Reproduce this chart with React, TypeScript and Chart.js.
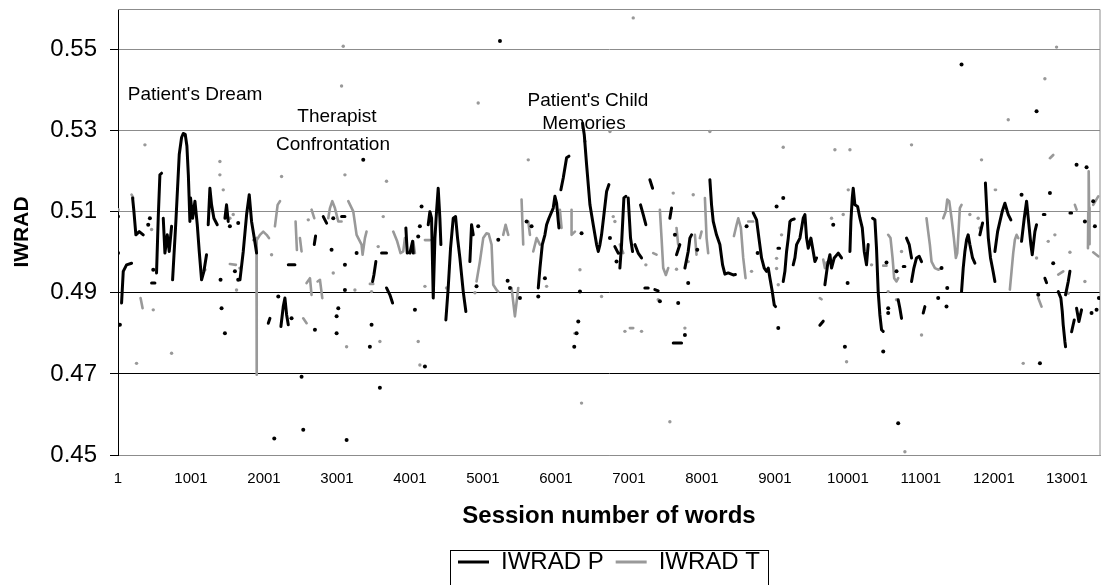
import React, { useEffect, useRef } from 'react';
import { Chart, registerables } from 'chart.js';

Chart.register(...registerables);

const FONT = "'Liberation Sans', Arial, Helvetica, sans-serif";

// Session word index tick labels
const xTicks = [1, 1001, 2001, 3001, 4001, 5001, 6001, 7001, 8001, 9001, 10001, 11001, 12001, 13001];
const yTicks = [0.45, 0.47, 0.49, 0.51, 0.53, 0.55];
const xMin = 1;
const xMax = 13455;
const yMin = 0.45;
const yMax = 0.56;

// IWRAD P (patient) — continuous runs of [word, value]
const iwradPRuns: number[][][] = [
  [[50, 0.4875], [73, 0.4953], [118, 0.4969], [187, 0.4973]],
  [[201, 0.5134], [219, 0.5101], [246, 0.5043], [292, 0.5051], [347, 0.5043]],
  [[461, 0.4924], [507, 0.4924]],
  [[529, 0.4949], [552, 0.5084], [575, 0.5191], [598, 0.5195]],
  [[621, 0.5084], [644, 0.4998], [676, 0.5043], [703, 0.5002], [735, 0.5064]],
  [[749, 0.4932], [794, 0.5076], [840, 0.5241], [872, 0.5283], [895, 0.5293], [922, 0.5291], [945, 0.5262], [965, 0.519], [986, 0.5076], [995, 0.5134], [1023, 0.5084], [1055, 0.5126], [1087, 0.5068], [1114, 0.5002], [1146, 0.4932], [1178, 0.4953], [1214, 0.4994]],
  [[1237, 0.5068], [1260, 0.5158], [1283, 0.5117], [1315, 0.5084], [1361, 0.5068]],
  [[1466, 0.5084], [1488, 0.5117], [1511, 0.5076]],
  [[1672, 0.4932], [1717, 0.5002], [1763, 0.5093], [1799, 0.5142], [1831, 0.5076], [1868, 0.5035], [1900, 0.4998]],
  [[2060, 0.4825], [2083, 0.4837]],
  [[2233, 0.4817], [2265, 0.4866], [2288, 0.4887], [2311, 0.4846], [2334, 0.4821]],
  [[2334, 0.4969], [2425, 0.4969]],
  [[2690, 0.5019], [2708, 0.504]],
  [[2813, 0.5088], [2859, 0.5072]],
  [[3064, 0.5088], [3110, 0.5088]],
  [[3489, 0.4928], [3507, 0.4944], [3534, 0.4977]],
  [[3612, 0.4998], [3680, 0.4998]],
  [[3680, 0.4912], [3726, 0.4895], [3763, 0.4875]],
  [[3945, 0.506], [3964, 0.4998]],
  [[4000, 0.4998], [4037, 0.5027], [4046, 0.4998]],
  [[4251, 0.5068], [4274, 0.51], [4297, 0.5084], [4320, 0.4887], [4343, 0.5035], [4365, 0.51], [4388, 0.5158], [4411, 0.5084], [4425, 0.5019]],
  [[4493, 0.4833], [4525, 0.4912], [4557, 0.501], [4594, 0.5084], [4626, 0.5088], [4653, 0.5035], [4685, 0.4986], [4731, 0.4903], [4767, 0.4854]],
  [[4822, 0.4977], [4845, 0.5068], [4868, 0.5043]],
  [[5759, 0.4912], [5782, 0.4961], [5814, 0.5019], [5850, 0.5043], [5873, 0.5068], [5905, 0.5084], [5964, 0.5109], [5987, 0.5138], [6010, 0.5121], [6042, 0.506]],
  [[6069, 0.5154], [6101, 0.5183], [6147, 0.5233], [6179, 0.5237]],
  [[6366, 0.5318], [6389, 0.529], [6421, 0.5216], [6467, 0.5117], [6512, 0.5068], [6558, 0.5019], [6581, 0.5002], [6604, 0.5019], [6626, 0.5043], [6663, 0.51], [6695, 0.515], [6727, 0.5167]],
  [[6808, 0.5014], [6854, 0.4998]],
  [[6877, 0.4961], [6900, 0.5019], [6932, 0.5134], [6959, 0.5138]],
  [[6991, 0.5134], [7023, 0.5035], [7051, 0.5002]],
  [[7083, 0.5019], [7128, 0.4998], [7174, 0.4986]],
  [[7160, 0.5117], [7197, 0.5093], [7233, 0.5068]],
  [[7219, 0.4912], [7265, 0.4912]],
  [[7288, 0.5179], [7325, 0.5158]],
  [[7356, 0.4908], [7402, 0.4905]],
  [[7562, 0.5084], [7585, 0.5109]],
  [[7608, 0.4776], [7722, 0.4776]],
  [[7653, 0.4994], [7699, 0.5019]],
  [[7768, 0.4961], [7813, 0.5002], [7836, 0.5035], [7859, 0.5043]],
  [[8110, 0.5179], [8133, 0.5117], [8156, 0.5076], [8201, 0.5043], [8247, 0.5019], [8284, 0.4969], [8316, 0.4946], [8361, 0.4949], [8430, 0.4944], [8460, 0.4945]],
  [[8704, 0.5097], [8750, 0.508], [8782, 0.5035], [8818, 0.4986], [8855, 0.4961], [8887, 0.4953], [8910, 0.4961], [8933, 0.4936], [8965, 0.4903], [8992, 0.487], [9010, 0.4866]],
  [[9042, 0.501], [9065, 0.501]],
  [[9115, 0.4928], [9138, 0.4953], [9161, 0.5002], [9184, 0.5035], [9207, 0.5076], [9229, 0.508], [9266, 0.5082]],
  [[9252, 0.4969], [9275, 0.4986], [9298, 0.5019], [9344, 0.5035], [9389, 0.5084], [9412, 0.5093], [9435, 0.5035], [9458, 0.501], [9494, 0.5035], [9526, 0.5002], [9549, 0.4977], [9572, 0.4986]],
  [[9617, 0.482], [9663, 0.483]],
  [[9686, 0.492], [9723, 0.4969], [9755, 0.4994], [9777, 0.4961], [9814, 0.4986], [9869, 0.4998], [9914, 0.4986]],
  [[10029, 0.5002], [10042, 0.5076], [10061, 0.5134], [10074, 0.5158], [10097, 0.5117], [10134, 0.5113], [10166, 0.5084], [10198, 0.506], [10225, 0.5002], [10256, 0.4969], [10279, 0.5019]],
  [[10339, 0.5084], [10371, 0.508], [10393, 0.501], [10416, 0.4903], [10439, 0.4846], [10462, 0.4809], [10485, 0.4805]],
  [[10690, 0.4883], [10713, 0.4862], [10736, 0.4837]],
  [[10759, 0.4965], [10782, 0.4965]],
  [[10804, 0.5035], [10841, 0.5019], [10873, 0.4986]],
  [[10873, 0.4928], [10905, 0.4961], [10941, 0.4986], [10978, 0.499], [11010, 0.4977]],
  [[11033, 0.485], [11056, 0.4866]],
  [[11558, 0.4903], [11581, 0.4961], [11604, 0.5002], [11627, 0.5031], [11649, 0.5043], [11672, 0.5019], [11709, 0.4986], [11741, 0.4973]],
  [[11809, 0.5043], [11846, 0.5072]],
  [[11885, 0.5171], [11905, 0.5101], [11925, 0.5035], [11955, 0.4986], [11990, 0.4953], [12015, 0.4928]],
  [[12015, 0.5002], [12052, 0.5051], [12084, 0.5076], [12116, 0.5101], [12152, 0.5121], [12198, 0.5093], [12234, 0.508]],
  [[12380, 0.5027], [12417, 0.5084], [12449, 0.5126], [12472, 0.5084], [12508, 0.5019], [12527, 0.4994], [12563, 0.5051], [12586, 0.5068]],
  [[12678, 0.5093], [12701, 0.5093]],
  [[12700, 0.4936], [12723, 0.4925]],
  [[12883, 0.4903], [12919, 0.4887], [12938, 0.4854], [12951, 0.4821], [12974, 0.478], [12983, 0.4767]],
  [[12983, 0.4895], [13020, 0.4928], [13043, 0.4953]],
  [[13043, 0.5097], [13066, 0.5097]],
  [[13066, 0.4804], [13102, 0.4833]],
  [[13134, 0.4862], [13166, 0.4829], [13202, 0.4858]],
];

// IWRAD P isolated values
const iwradPDots: number[][] = [
  [1, 0.5088], [1, 0.4998], [27, 0.4821], [415, 0.5068], [438, 0.5084], [484, 0.4957], [1406, 0.4932], [1420, 0.4862], [1466, 0.48], [1534, 0.5064], [1603, 0.4953], [1648, 0.5072], [1648, 0.4932],
  [2197, 0.4891], [2379, 0.4837], [2699, 0.4809], [2927, 0.5006], [2950, 0.5084], [2996, 0.4842], [2996, 0.48], [3019, 0.4862], [3110, 0.4907], [3110, 0.4969], [3270, 0.4998], [3361, 0.5228], [2516, 0.4693], [2142, 0.4541], [2539, 0.4562], [3133, 0.4537],
  [3452, 0.4767], [3475, 0.4821], [3589, 0.4666], [4069, 0.4858], [4114, 0.5039], [4137, 0.5064], [4160, 0.5113], [4206, 0.4718], [4913, 0.4916], [4936, 0.5064],
  [5211, 0.5031], [5234, 0.5521], [5339, 0.493], [5371, 0.4912], [5508, 0.4887], [5599, 0.5076], [5667, 0.5064], [5759, 0.4891], [5850, 0.4936], [6252, 0.4767], [6284, 0.48], [6307, 0.4829], [6330, 0.4903], [6352, 0.5047], [6741, 0.5035],
  [6831, 0.4977], [7425, 0.4879], [7631, 0.5043], [7676, 0.4875], [7768, 0.4796], [7813, 0.4924], [7937, 0.5006],
  [8613, 0.5064], [8764, 0.4998], [9024, 0.5113], [9047, 0.4813], [9115, 0.5134], [9800, 0.5068], [9960, 0.4767], [9997, 0.4924],
  [10485, 0.4755], [10530, 0.4975], [10553, 0.4862], [10553, 0.485], [10667, 0.4953], [10690, 0.4578], [11238, 0.4887], [11284, 0.4961], [11352, 0.4866], [11362, 0.4912], [11558, 0.5463],
  [12380, 0.5142], [12586, 0.5348], [12609, 0.4895], [12632, 0.4726], [12769, 0.5146], [12814, 0.4973], [13134, 0.5216], [13248, 0.5076], [13271, 0.521], [13339, 0.485], [13362, 0.5126], [13385, 0.5064], [13408, 0.4858], [13440, 0.4887],
];

// IWRAD T (therapist) — continuous runs of [word, value]
const iwradTRuns: number[][][] = [
  [[187, 0.5142], [210, 0.5134]],
  [[310, 0.4887], [338, 0.4862]],
  [[1534, 0.4971], [1616, 0.4969]],
  [[1855, 0.503], [1898, 0.5035], [1900, 0.4698], [1903, 0.503], [1946, 0.5043], [1991, 0.5051], [2037, 0.5043], [2069, 0.5035]],
  [[2151, 0.5064], [2188, 0.5117], [2220, 0.5126]],
  [[2434, 0.5076], [2452, 0.5006]],
  [[2494, 0.5035], [2516, 0.5002]],
  [[2539, 0.4837], [2585, 0.4825]],
  [[2585, 0.4924], [2631, 0.4936], [2653, 0.4895]],
  [[2653, 0.5105], [2690, 0.5084]],
  [[2736, 0.4928], [2768, 0.4932], [2800, 0.4887]],
  [[2882, 0.5084], [2905, 0.5109], [2937, 0.5126], [2973, 0.5109], [3019, 0.5076], [3064, 0.5076]],
  [[3156, 0.5126], [3224, 0.5101], [3270, 0.5043], [3338, 0.5019], [3352, 0.4994], [3384, 0.5035], [3406, 0.5051]],
  [[3452, 0.4922], [3498, 0.4922]],
  [[3772, 0.5051], [3826, 0.5027], [3872, 0.4998], [3909, 0.5002], [3932, 0.5035]],
  [[4046, 0.5027], [4069, 0.4998]],
  [[4206, 0.503], [4274, 0.503]],
  [[4913, 0.4928], [4959, 0.4977], [5005, 0.5035], [5050, 0.5047], [5080, 0.5045], [5119, 0.5019], [5142, 0.492], [5188, 0.4907], [5211, 0.4903]],
  [[5279, 0.5043], [5311, 0.5068], [5348, 0.5043]],
  [[5393, 0.4912], [5439, 0.4842], [5485, 0.4912]],
  [[5530, 0.513], [5553, 0.5019]],
  [[5622, 0.5076], [5645, 0.5043]],
  [[5690, 0.5002], [5736, 0.5035], [5782, 0.5019]],
  [[6055, 0.5105], [6078, 0.506]],
  [[6215, 0.5105], [6215, 0.5043], [6261, 0.5051]],
  [[6877, 0.5019], [6923, 0.4998]],
  [[7014, 0.4813], [7060, 0.4813]],
  [[7334, 0.4998], [7379, 0.4994]],
  [[7425, 0.5105], [7448, 0.5035], [7471, 0.4961], [7507, 0.4944], [7539, 0.4961]],
  [[7653, 0.506], [7676, 0.5019]],
  [[7905, 0.5043], [7927, 0.4994]],
  [[7973, 0.5035], [7996, 0.5051]],
  [[8042, 0.5134], [8065, 0.5035], [8087, 0.4998]],
  [[8440, 0.504], [8476, 0.5068], [8499, 0.5084], [8535, 0.506], [8567, 0.4986], [8599, 0.4936]],
  [[8636, 0.5076], [8704, 0.5076]],
  [[9617, 0.4887], [9640, 0.4884]],
  [[9663, 0.4982], [9686, 0.4961], [9709, 0.4975]],
  [[10485, 0.4967], [10530, 0.4967]],
  [[10553, 0.5043], [10585, 0.5035], [10613, 0.4986], [10635, 0.4936], [10667, 0.4928], [10690, 0.4936]],
  [[11078, 0.5084], [11101, 0.5051], [11124, 0.5019], [11147, 0.4977], [11193, 0.4961], [11238, 0.4957], [11284, 0.4961]],
  [[11307, 0.5084], [11343, 0.5101], [11362, 0.513], [11389, 0.5126], [11421, 0.5084], [11453, 0.5035], [11480, 0.4986], [11499, 0.4998], [11517, 0.5051], [11535, 0.5109], [11558, 0.5117]],
  [[12015, 0.5154], [12030, 0.5154]],
  [[12220, 0.4908], [12243, 0.4953], [12266, 0.4998], [12289, 0.5031], [12312, 0.5043], [12335, 0.5035]],
  [[12609, 0.4887], [12654, 0.4866]],
  [[12769, 0.5232], [12814, 0.524]],
  [[12883, 0.4945], [12951, 0.4953]],
  [[13111, 0.5117], [13134, 0.5105]],
  [[13290, 0.501], [13294, 0.51], [13300, 0.52], [13306, 0.511], [13312, 0.502]],
  [[13362, 0.5], [13431, 0.499]],
  [[13362, 0.5117], [13431, 0.5138]],
];

// IWRAD T isolated values
const iwradTDots: number[][] = [
  [4, 0.5105], [255, 0.4726], [370, 0.5265], [461, 0.5056], [484, 0.4858], [735, 0.4751], [1192, 0.4957], [1397, 0.5224], [1397, 0.5191], [1443, 0.5154], [1534, 0.5084], [1580, 0.5093], [1625, 0.4907], [1671, 0.4961],
  [2105, 0.4994], [2242, 0.5187], [2608, 0.508], [2950, 0.4949], [3064, 0.541], [3087, 0.5508], [3110, 0.5191], [3133, 0.4767], [3247, 0.4907],
  [3475, 0.4903], [3566, 0.5014], [3589, 0.478], [3635, 0.5088], [3680, 0.5175], [4114, 0.478], [4137, 0.4722], [4206, 0.4916], [4502, 0.4912], [4891, 0.49], [4936, 0.5368],
  [5622, 0.5228], [5873, 0.4916], [6261, 0.48], [6330, 0.4957], [6352, 0.4628], [6398, 0.5274], [6626, 0.4891], [6741, 0.5298], [6786, 0.5088],
  [6809, 0.5076], [6946, 0.4805], [7060, 0.5578], [7174, 0.4805], [7233, 0.4969], [7402, 0.4883], [7562, 0.4582], [7608, 0.5146], [7653, 0.4958], [7768, 0.4813], [7813, 0.4977], [7882, 0.5142], [8110, 0.5298],
  [8681, 0.4953], [9024, 0.4985], [9024, 0.496], [9047, 0.492], [9092, 0.5043], [9115, 0.5259], [9777, 0.5084], [9823, 0.5253], [9937, 0.5093], [9983, 0.473], [10006, 0.5154], [10029, 0.5253],
  [10325, 0.4969], [10553, 0.4903], [10667, 0.4883], [10736, 0.5002], [10782, 0.4508], [10873, 0.5265], [11010, 0.4796], [11672, 0.5093], [11786, 0.5084], [11832, 0.5228],
  [11810, 0.506], [12198, 0.5327], [12403, 0.4726], [12586, 0.4986], [12700, 0.5428], [12746, 0.5027], [12837, 0.5043], [12860, 0.5506], [13020, 0.4899], [13043, 0.5], [13248, 0.4928],
];

// Text annotations anchored at [word, value]
const noteTexts = ["Patient's Dream", 'Therapist', 'Confrontation', "Patient's Child", 'Memories'];
const noteX = [1056, 3001, 2946, 6440, 6385];
const noteY = [0.5388, 0.5334, 0.5264, 0.5373, 0.5316];

const seriesNames = ['IWRAD P', 'IWRAD T'];
const P_COLOR = '#000000';
const T_COLOR = '#999999';

function runsToPoints(runs: number[][][]) {
  const out: { x: number; y: number | null }[] = [];
  runs.forEach((run) => {
    run.forEach(([x, y]) => out.push({ x, y }));
    out.push({ x: run[run.length - 1][0], y: null });
  });
  return out;
}
const dotsToPoints = (d: number[][]) => d.map(([x, y]) => ({ x, y }));

const framePlugin = {
  id: 'frame',
  beforeDatasetsDraw(chart: any) {
    const { ctx, chartArea } = chart;
    ctx.save();
    ctx.strokeStyle = '#8c8c8c';
    ctx.lineWidth = 1;
    ctx.beginPath();
    ctx.moveTo(chartArea.left, Math.round(chartArea.top) + 0.5);
    ctx.lineTo(chartArea.right, Math.round(chartArea.top) + 0.5);
    ctx.lineTo(chartArea.right, chartArea.bottom);
    ctx.stroke();
    ctx.restore();
  },
};

const notesPlugin = {
  id: 'notes',
  afterDatasetsDraw(chart: any) {
    const { ctx, scales } = chart;
    ctx.save();
    ctx.font = `19px ${FONT}`;
    ctx.fillStyle = '#000';
    ctx.textAlign = 'center';
    ctx.textBaseline = 'middle';
    noteTexts.forEach((t, i) => {
      ctx.fillText(t, scales.x.getPixelForValue(noteX[i]), scales.y.getPixelForValue(noteY[i]));
    });
    ctx.restore();
  },
};

const legendBoxPlugin = {
  id: 'legendBox',
  afterDraw(chart: any) {
    const lg = chart.legend;
    const hb = lg && lg.legendHitBoxes;
    if (!hb || !hb.length) return;
    const first = hb[0];
    const last = hb[hb.length - 1];
    const left = Math.round(first.left - 8) + 0.5;
    const right = Math.round(last.left + last.width + 8) + 0.5;
    const top = Math.round(first.top) + 0.5;
    const { ctx } = chart;
    ctx.save();
    ctx.strokeStyle = '#000';
    ctx.lineWidth = 1;
    ctx.strokeRect(left, top, right - left, chart.height - top + 10);
    ctx.restore();
  },
};

export default function App() {
  const ref = useRef<HTMLCanvasElement | null>(null);
  useEffect(() => {
    if (!ref.current) return;
    const chart = new Chart(ref.current, {
      type: 'line',
      data: {
        datasets: [
          {
            label: seriesNames[0],
            data: runsToPoints(iwradPRuns),
            borderColor: P_COLOR,
            backgroundColor: P_COLOR,
            borderWidth: 3,
            pointRadius: 0,
            spanGaps: false,
            borderCapStyle: 'round',
            borderJoinStyle: 'round',
            tension: 0,
            order: 1,
          },
          {
            label: seriesNames[1],
            data: runsToPoints(iwradTRuns),
            borderColor: T_COLOR,
            backgroundColor: T_COLOR,
            borderWidth: 2.6,
            pointRadius: 0,
            spanGaps: false,
            borderCapStyle: 'round',
            borderJoinStyle: 'round',
            tension: 0,
            order: 2,
          },
          {
            label: 'P dots',
            data: dotsToPoints(iwradPDots),
            showLine: false,
            pointRadius: 2,
            pointBorderWidth: 0,
            pointBackgroundColor: P_COLOR,
            borderColor: P_COLOR,
            order: 1,
          },
          {
            label: 'T dots',
            data: dotsToPoints(iwradTDots),
            showLine: false,
            pointRadius: 1.7,
            pointBorderWidth: 0,
            pointBackgroundColor: T_COLOR,
            borderColor: T_COLOR,
            order: 2,
          },
        ],
      } as any,
      options: {
        responsive: false,
        animation: false,
        devicePixelRatio: 1,
        events: [],
        layout: { padding: { left: 0, right: 7, top: 9, bottom: 1 } },
        scales: {
          x: {
            type: 'linear',
            min: xMin,
            max: xMax,
            afterBuildTicks: (scale: any) => {
              scale.ticks = xTicks.map((v) => ({ value: v }));
            },
            afterFit: (scale: any) => {
              scale.height = 83;
              scale.paddingLeft = 0;
              scale.paddingRight = 0;
            },
            ticks: {
              autoSkip: false,
              maxRotation: 0,
              padding: 15,
              color: '#000',
              font: { family: FONT, size: 15 },
              callback: (v: any) => String(v),
            },
            grid: { display: false, drawTicks: false },
            border: { display: true, color: '#8c8c8c', width: 1 },
            title: {
              display: true,
              text: 'Session number of words',
              color: '#000',
              font: { family: FONT, size: 24, weight: 'bold' },
              padding: { top: 0, bottom: 7 },
            },
          },
          y: {
            type: 'linear',
            min: yMin,
            max: yMax,
            afterBuildTicks: (scale: any) => {
              scale.ticks = yTicks.map((v) => ({ value: v }));
            },
            afterFit: (scale: any) => {
              scale.width = 118;
              scale.paddingTop = 0;
              scale.paddingBottom = 0;
            },
            ticks: {
              padding: 13,
              color: '#000',
              font: { family: FONT, size: 24 },
              callback: (v: any) => Number(v).toFixed(2),
            },
            grid: {
              color: (c: any) => {
                const v = c.tick ? c.tick.value : 0;
                return v > 0.46 && v < 0.5 ? '#000000' : '#8c8c8c';
              },
              tickColor: '#000',
              tickLength: 8,
              lineWidth: 1,
            },
            border: { display: true, color: '#000', width: 1 },
            title: {
              display: true,
              text: 'IWRAD',
              color: '#000',
              font: { family: FONT, size: 21, weight: 'bold' },
              padding: { top: 10, bottom: 0 },
            },
          },
        },
        plugins: {
          tooltip: { enabled: false },
          title: { display: false },
          legend: {
            display: true,
            position: 'bottom',
            fullSize: false,
            labels: {
              boxWidth: 31,
              boxHeight: 3,
              padding: 12,
              color: '#000',
              font: { family: FONT, size: 24 },
              generateLabels: (ch: any) => {
                const items = (Chart.defaults.plugins.legend.labels as any).generateLabels(ch);
                return items
                  .filter((it: any) => it.datasetIndex < 2)
                  .map((it: any) => ({ ...it, lineWidth: 0 }));
              },
            },
          },
        },
      } as any,
      plugins: [framePlugin, notesPlugin, legendBoxPlugin],
    });
    return () => chart.destroy();
  }, []);

  return (
    <div style={{ position: 'absolute', left: 0, top: 0, width: 1107, height: 585, background: '#fff' }}>
      <canvas ref={ref} width={1107} height={585} style={{ display: 'block', width: 1107, height: 585 }} />
    </div>
  );
}
